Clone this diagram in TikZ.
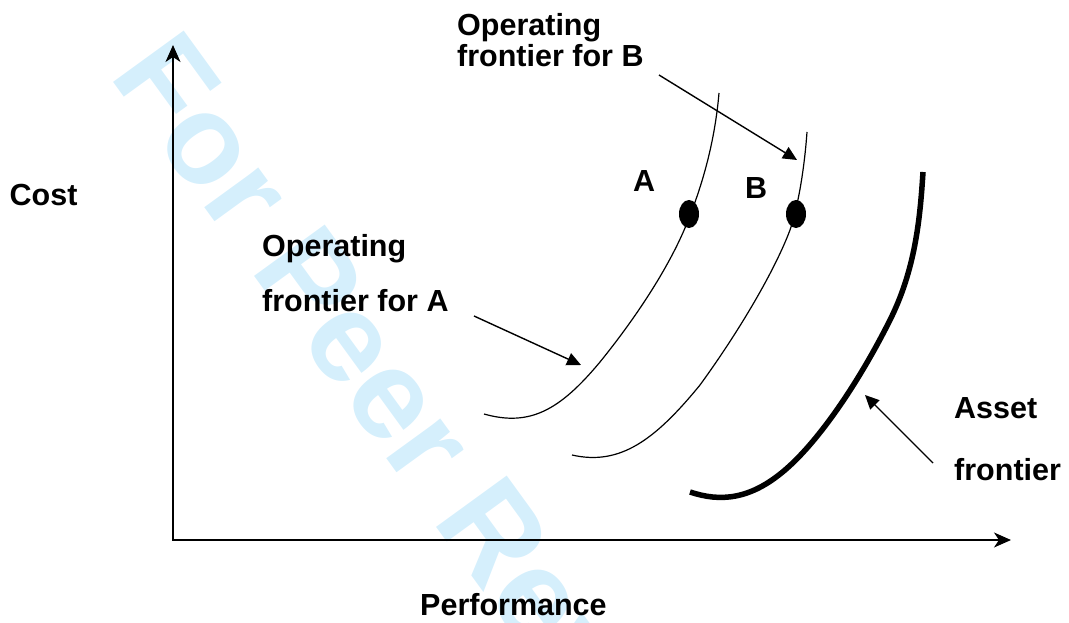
\documentclass[tikz,border=0pt]{standalone}
\usepackage{fontspec}
\setmainfont{Liberation Sans}
\usetikzlibrary{arrows.meta,shapes.geometric}
\definecolor{wm}{RGB}{213,239,252}
\begin{document}
\begin{tikzpicture}[x=1pt,y=-1pt,
  lbl/.style={font=\bfseries\fontsize{30.5}{36}\selectfont, inner sep=0pt, anchor=base west},
  thincurve/.style={line width=1.2pt},
  ann/.style={line width=1.4pt, -{Triangle[length=14pt,width=13pt]}},
  axis/.style={line width=1.6pt, {Stealth[length=17pt,width=15pt,inset=5pt]}-{Stealth[length=17pt,width=15pt,inset=5pt]}},
  dot/.style={ellipse, fill=black, minimum width=20pt, minimum height=28pt, inner sep=0pt}]
\path[use as bounding box] (0,0) rectangle (1069,623);
\begin{scope}
\clip (0,0) rectangle (1069,623);
\node[font=\bfseries\fontsize{127}{140}\selectfont, text=wm, rotate=-54, anchor=base west, inner sep=0pt] (wmk) at (108,75) {For Peer Review};
\end{scope}
% axes
\coordinate (O) at (173,540);
\coordinate (Yt) at (173,45);
\coordinate (Xt) at (1011,540);
\draw[axis] (Yt) -- (O) -- (Xt);
% labels
\node[lbl] (cost) at (9.5,206) {Cost};
\node[lbl] (perf) at (420,615) {Performance};
\node[lbl] (opA1) at (262,256) {Operating};
\node[lbl] (opA2) at (262,311) {frontier for A};
\node[lbl] (opB1) at (457,36) {Operating};
\node[lbl] (opB2) at (457,67) {frontier for B};
\node[lbl] (as1) at (954,418) {Asset};
\node[lbl] (as2) at (954,480) {frontier};
\node[lbl] (la) at (633,192) {A};
\node[lbl] (lb) at (745,199) {B};
% curves
\draw[thincurve] (484,414) .. controls (530,427) and (560,410) .. (600,362)
  .. controls (630,325) and (665,275) .. (685,228)
  .. controls (703,185) and (715,140) .. (719,93);
\draw[thincurve] (572,455) .. controls (620,466) and (655,440) .. (700,385)
  .. controls (740,330) and (775,270) .. (790,230)
  .. controls (800,200) and (805,160) .. (807,132);
\draw[line width=5.5pt] (690,492) .. controls (720,502) and (750,500) .. (785,470)
  .. controls (820,440) and (860,380) .. (890,320)
  .. controls (915,270) and (920,220) .. (923,172);
% dots
\node[dot] (dA) at (689,214) {};
\node[dot] (dB) at (796,214) {};
% annotation arrows
\coordinate (aAs) at (474,316); \coordinate (aAe) at (581,365);
\coordinate (aBs) at (659,75);  \coordinate (aBe) at (797,160);
\coordinate (aCs) at (933,463); \coordinate (aCe) at (865,395);
\draw[ann] (aAs) -- (aAe);
\draw[ann] (aBs) -- (aBe);
\draw[ann] (aCs) -- (aCe);
\end{tikzpicture}
\end{document}
